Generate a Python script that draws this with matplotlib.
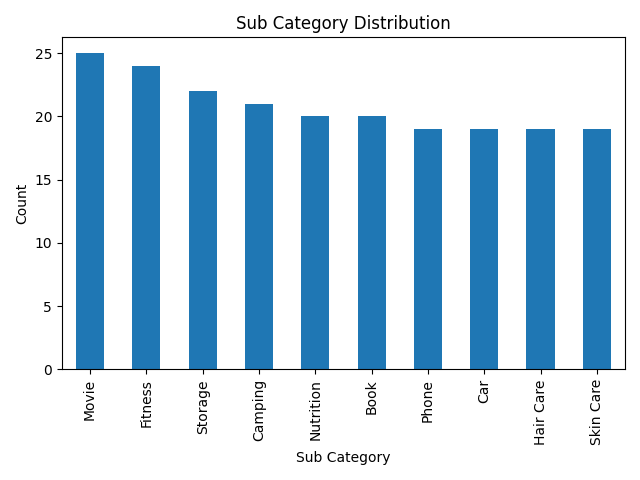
import matplotlib
matplotlib.use("Agg")
import matplotlib.pyplot as plt
import pandas as pd

categories = ["Movie", "Fitness", "Storage", "Camping", "Nutrition", "Book",
              "Phone", "Car", "Hair Care", "Skin Care"]
counts = [25, 24, 22, 21, 20, 20, 19, 19, 19, 19]

s = pd.Series(counts, index=categories)
fig, ax = plt.subplots(figsize=(6.4, 4.8), dpi=100)
s.plot(kind="bar", ax=ax, color="#1f77b4")
ax.set_title("Sub Category Distribution")
ax.set_xlabel("Sub Category")
ax.set_ylabel("Count")
fig.tight_layout()
fig.savefig("out.png")
